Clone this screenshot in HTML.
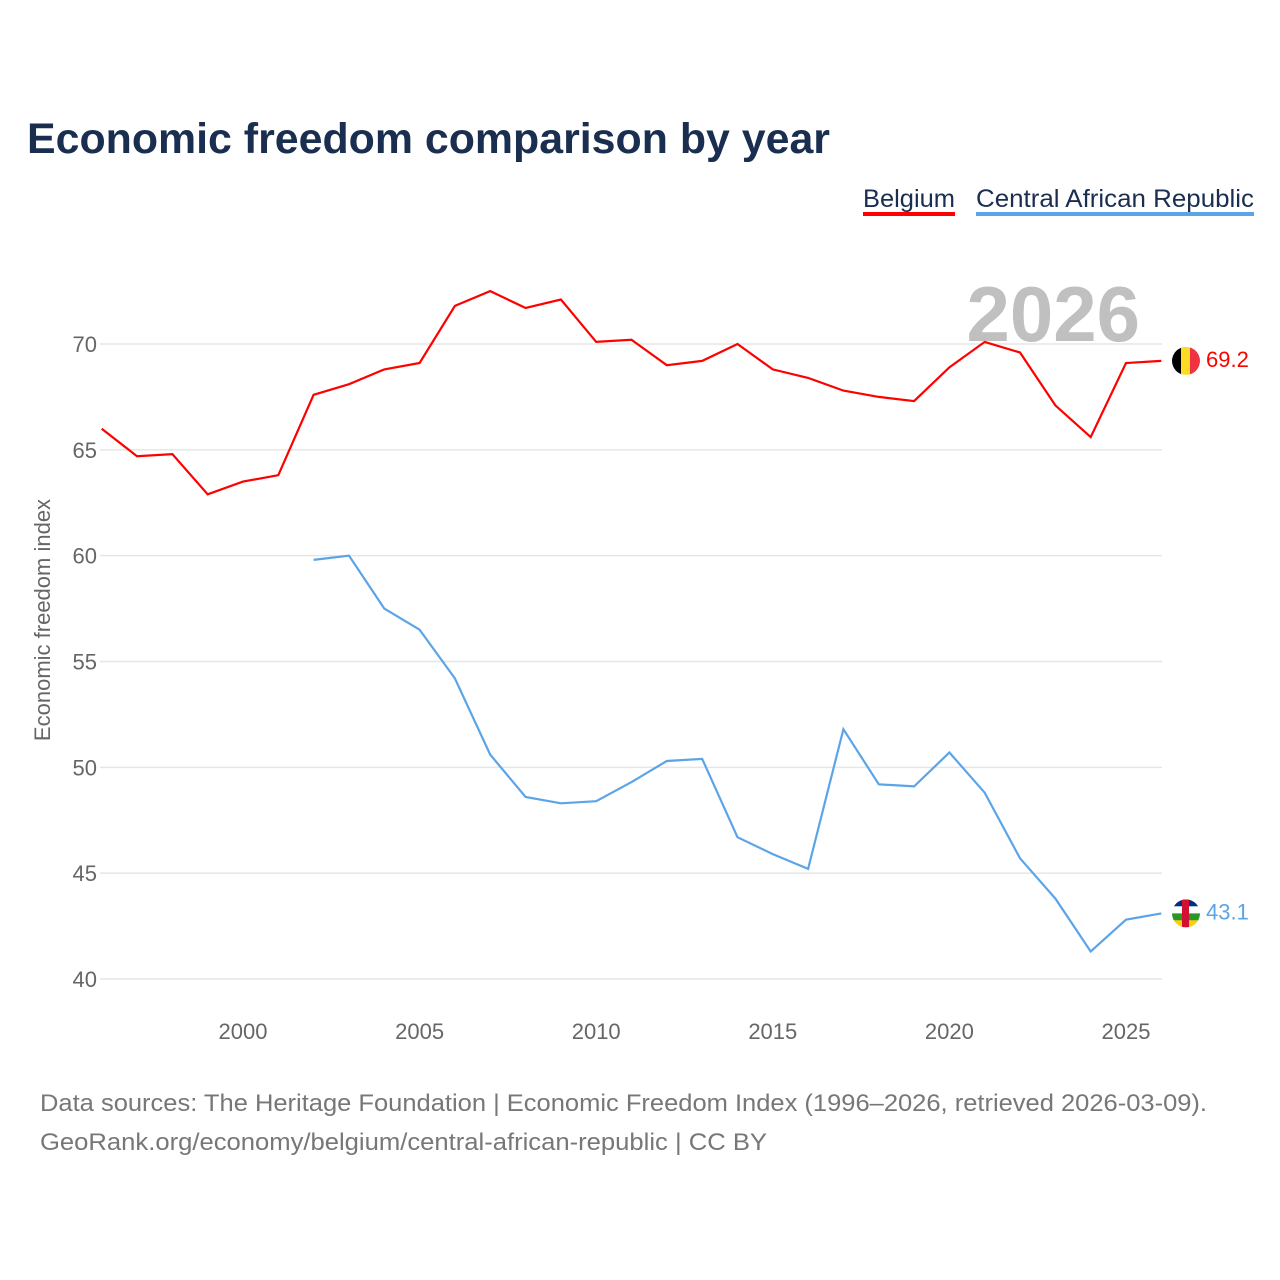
<!DOCTYPE html>
<html><head><meta charset="utf-8">
<style>
body{margin:0;background:#fff;font-family:"Liberation Sans",sans-serif;}
#wrap{position:relative;width:1280px;height:1280px;overflow:hidden;}
</style></head>
<body>
<div id="wrap">
<svg id="chart" width="1280" height="1280" xmlns="http://www.w3.org/2000/svg">
<text x="27" y="153" font-size="43" font-weight="bold" fill="#1a2e50" textLength="803" lengthAdjust="spacingAndGlyphs">Economic freedom comparison by year</text>
<g>
<text x="863" y="207" font-size="25" fill="#1a2e50" textLength="92" lengthAdjust="spacingAndGlyphs">Belgium</text>
<rect x="863" y="212" width="92" height="4" fill="#ff0000"/></g>
<g>
<text x="976" y="207" font-size="25" fill="#1a2e50" textLength="278" lengthAdjust="spacingAndGlyphs">Central African Republic</text>
<rect x="976" y="212" width="278" height="4" fill="#5ba4e8"/></g>
<text x="1140" y="341" font-size="78" font-weight="bold" fill="#c0c0c0" text-anchor="end">2026</text>
<text transform="translate(50,620) rotate(-90)" font-size="22" fill="#666" text-anchor="middle">Economic freedom index</text>
<g id="grid"></g><g id="xt"></g><g id="lines"></g>
<text x="40" y="1111" font-size="24" fill="#777" textLength="1167" lengthAdjust="spacingAndGlyphs">Data sources: The Heritage Foundation | Economic Freedom Index (1996–2026, retrieved 2026-03-09).</text>
<text x="40" y="1150" font-size="24" fill="#777" textLength="727" lengthAdjust="spacingAndGlyphs">GeoRank.org/economy/belgium/central-african-republic | CC BY</text>
</svg>
</div>
<script>
const years=[1996,1997,1998,1999,2000,2001,2002,2003,2004,2005,2006,2007,2008,2009,2010,2011,2012,2013,2014,2015,2016,2017,2018,2019,2020,2021,2022,2023,2024,2025,2026];
const belgium=[66.0,64.7,64.8,62.9,63.5,63.8,67.6,68.1,68.8,69.1,71.8,72.5,71.7,72.1,70.1,70.2,69.0,69.2,70.0,68.8,68.4,67.8,67.5,67.3,68.9,70.1,69.6,67.1,65.6,69.1,69.2];
const car=[null,null,null,null,null,null,59.8,60.0,57.5,56.5,54.2,50.6,48.6,48.3,48.4,49.3,50.3,50.4,46.7,45.9,45.2,51.8,49.2,49.1,50.7,48.8,45.7,43.8,41.3,42.8,43.1];
const yTicks=[40,45,50,55,60,65,70];
const xTicks=[2000,2005,2010,2015,2020,2025];
const NS="http://www.w3.org/2000/svg";
const xs=y=>243+(y-2000)*35.32;
const ys=v=>979-(v-40)*21.167;
function mk(t,a,p){const e=document.createElementNS(NS,t);for(const k in a)e.setAttribute(k,a[k]);p.appendChild(e);return e;}
const grid=document.getElementById('grid');
yTicks.forEach(v=>{
 const l=mk('line',{x1:100,x2:1162,y1:ys(v),y2:ys(v),stroke:'#e6e6e6','stroke-width':1.5},grid);
 
 
 const t=mk('text',{x:97,y:ys(v)+8,'font-size':22,fill:'#666','text-anchor':'end'},grid);
 t.textContent=v;
 
 
});
const xt=document.getElementById('xt');
xTicks.forEach(v=>{
 const t=mk('text',{x:xs(v),y:1039,'font-size':22,fill:'#666','text-anchor':'middle'},xt);
 t.textContent=v;
 
 
});
const lines=document.getElementById('lines');
function series(vals,col,name){
 let d='',pen=false;
 vals.forEach((v,i)=>{if(v==null){pen=false;return;}d+=(pen?'L':'M')+xs(years[i]).toFixed(1)+','+ys(v).toFixed(1);pen=true;});
 const p=mk('path',{d:d,fill:'none',stroke:col,'stroke-width':2.2},lines);
 
 
 const last=vals[vals.length-1];
 const t=mk('text',{x:1206,y:ys(last)+6,'font-size':22,fill:col},lines);
 t.textContent=last.toFixed(1);
 
 
 return ys(last);
}
const yb=series(belgium,'#ff0000','belgium');
const yc=series(car,'#5ba4e8','car');
let g=mk('g',{},lines);


const cpb=mk('clipPath',{id:'cb'},g);mk('circle',{cx:1186,cy:yb,r:14},cpb);
const gb=mk('g',{'clip-path':'url(#cb)'},g);
mk('rect',{x:1172,y:yb-14,width:10,height:28,fill:'#000'},gb);
mk('rect',{x:1181,y:yb-14,width:10,height:28,fill:'#fdda24'},gb);
mk('rect',{x:1190,y:yb-14,width:10,height:28,fill:'#ef3340'},gb);
let g2=mk('g',{},lines);


const cp=mk('clipPath',{id:'cc'},g2);mk('circle',{cx:1186,cy:yc,r:14},cp);
const gc=mk('g',{'clip-path':'url(#cc)'},g2);
const cols=['#003082','#fff','#289728','#ffce00'];
cols.forEach((c,i)=>mk('rect',{x:1172,y:yc-14+i*7,width:28,height:7,fill:c},gc));
mk('rect',{x:1182,y:yc-14,width:7,height:28,fill:'#d21034'},gc);
</script>
</body></html>
